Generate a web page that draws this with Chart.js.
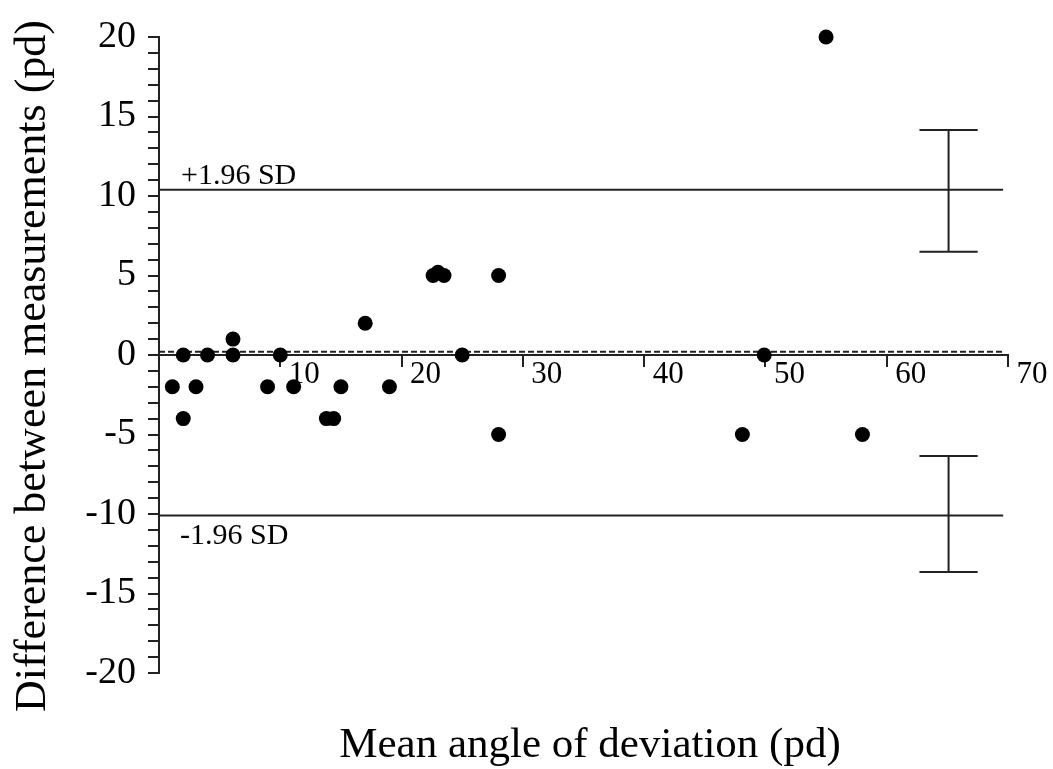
<!DOCTYPE html>
<html>
<head>
<meta charset="utf-8">
<script src="https://cdn.jsdelivr.net/npm/chart.js@4.4.0/dist/chart.umd.min.js"></script>
<style>
  html, body { margin: 0; padding: 0; background: #fff; }
  #wrap { width: 1053px; height: 769px; }
</style>
</head>
<body>
<div id="wrap"><canvas id="baChart"></canvas></div>
<script>
// Bland-Altman data (pd)
const meanAngle = [1.1, 2.0, 2.0, 3.05, 4.0, 6.1, 6.1, 8.95, 10.0, 11.1, 13.8, 14.4, 15.0,
  17.0, 19.0, 22.6, 23.0, 23.5, 25.0, 28.0, 28.0, 48.1, 49.9, 55.0, 58.0];
const difference = [-2, 0, -4, -2, 0, 1, 0, -2, 0, -2, -4, -4, -2,
  2, -2, 5, 5.2, 5, 0, 5, -5, -5, 0, 20, -5];

const meanDiff = 0.2;
const upperLoA = 10.4;
const lowerLoA = -10.1;
const lineEnd = 69.6;

// 95% CI of the limits of agreement
const ciX = 65.1;
const capHalf = 2.4;
const upperCI = [6.5, 14.15];
const lowerCI = [-13.65, -6.35];

const xTicks = [10, 20, 30, 40, 50, 60, 70];
const yLabelStep = 5;

const serif = "'Liberation Serif', 'Times New Roman', serif";
const ink = '#222';

function hLine(y) {
  return [{ x: 0, y: y }, { x: lineEnd, y: y }];
}

function errorBar(lo, hi) {
  return [
    { x: ciX - capHalf, y: hi }, { x: ciX + capHalf, y: hi }, { x: ciX, y: null },
    { x: ciX, y: hi }, { x: ciX, y: lo }, { x: ciX, y: null },
    { x: ciX - capHalf, y: lo }, { x: ciX + capHalf, y: lo }
  ];
}

function lineSet(data, dash) {
  return {
    data: data,
    showLine: true,
    borderColor: ink,
    borderWidth: 2,
    borderDash: dash || [],
    pointRadius: 0,
    spanGaps: false,
    fill: false
  };
}

const textPlugin = {
  id: 'baText',
  afterDraw(chart) {
    const ctx = chart.ctx;
    const ys = chart.scales.y;
    const area = chart.chartArea;
    ctx.save();
    ctx.fillStyle = '#000';

    ctx.font = '30px ' + serif;
    ctx.textAlign = 'left';
    ctx.textBaseline = 'alphabetic';
    ctx.fillText('+1.96 SD', area.left + 22, ys.getPixelForValue(upperLoA) - 6);
    ctx.fillText('-1.96 SD', area.left + 21, ys.getPixelForValue(lowerLoA) + 28);

    ctx.font = '43px ' + serif;
    ctx.textAlign = 'center';
    ctx.fillText('Mean angle of deviation (pd)', 590, 757);

    ctx.translate(45, 366);
    ctx.rotate(-Math.PI / 2);
    ctx.font = '44px ' + serif;
    ctx.fillText('Difference between measurements (pd)', 0, 0);
    ctx.restore();
  }
};

const datasets = [
  {
    data: meanAngle.map((m, i) => ({ x: m, y: difference[i] })),
    pointRadius: 7.5,
    pointBackgroundColor: '#000',
    pointBorderWidth: 0,
    showLine: false,
    clip: false
  },
  lineSet(hLine(meanDiff), [6, 3]),
  lineSet(hLine(upperLoA)),
  lineSet(hLine(lowerLoA)),
  lineSet(errorBar(upperCI[0], upperCI[1])),
  lineSet(errorBar(lowerCI[0], lowerCI[1]))
];

new Chart(document.getElementById('baChart'), {
  type: 'scatter',
  data: { datasets: datasets },
  options: {
    responsive: true,
    maintainAspectRatio: false,
    animation: false,
    layout: { padding: { left: 0, top: 37, right: 45, bottom: 96 } },
    plugins: {
      legend: { display: false },
      tooltip: { enabled: false }
    },
    scales: {
      x: {
        type: 'linear',
        min: 0,
        max: 70,
        position: { y: 0 },
        afterBuildTicks(scale) {
          scale.ticks = [0].concat(xTicks).map(v => ({ value: v }));
        },
        ticks: {
          callback: v => (v === 0 ? '' : v),
          font: { size: 31, family: serif },
          color: '#000',
          labelOffset: 24,
          padding: -10,
          maxRotation: 0,
          autoSkip: false
        },
        grid: { drawOnChartArea: false, tickLength: 11, color: ink, lineWidth: 2 },
        border: { color: ink, width: 2 }
      },
      y: {
        min: -20,
        max: 20,
        afterFit(scale) { scale.width = 159; },
        ticks: {
          stepSize: 1,
          autoSkip: false,
          callback: v => (v % yLabelStep === 0 ? v : ''),
          font: { size: 38, family: serif },
          color: '#000',
          padding: 12
        },
        grid: { drawOnChartArea: false, tickLength: 11, color: ink, lineWidth: 2 },
        border: { color: ink, width: 2 }
      }
    }
  },
  plugins: [textPlugin]
});
</script>
</body>
</html>
